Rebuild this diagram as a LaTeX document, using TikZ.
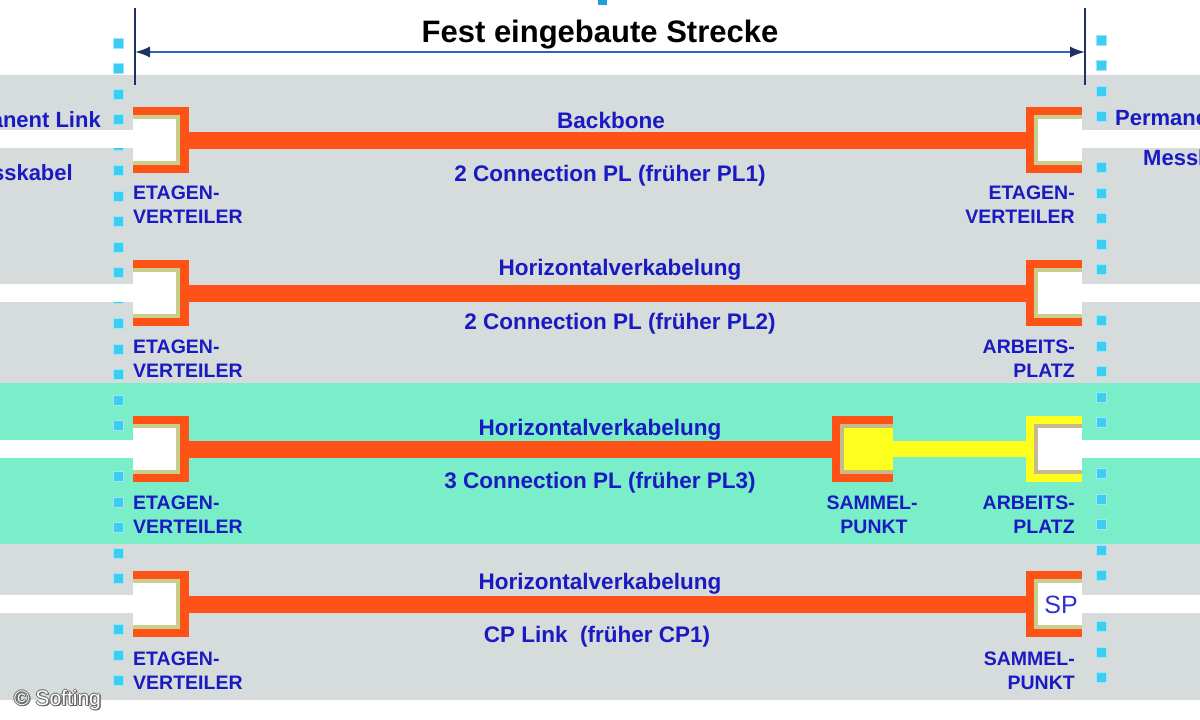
\documentclass[tikz,border=0pt]{standalone}
\usepackage{fontspec}
\setmainfont{Liberation Sans}
\usetikzlibrary{arrows.meta}
\definecolor{bgray}{RGB}{214,219,219}
\definecolor{tealb}{RGB}{122,238,200}
\definecolor{cab}{RGB}{255,82,22}
\definecolor{beige}{RGB}{200,206,140}
\definecolor{tanb}{RGB}{200,185,140}
\definecolor{yel}{RGB}{255,255,30}
\definecolor{txtblue}{RGB}{26,26,195}
\definecolor{dotc}{RGB}{60,205,242}
\definecolor{navyb}{RGB}{30,50,100}
\definecolor{arrblue}{RGB}{50,95,195}
\tikzset{
 openL/.style n args={3}{minimum width=56pt, minimum height=66pt, inner sep=0pt, fill=#1,
  path picture={
   \fill[#2] ([yshift=-8pt]path picture bounding box.north west) rectangle ([xshift=-9pt,yshift=8pt]path picture bounding box.south east);
   \fill[#3] ([yshift=-12pt]path picture bounding box.north west) rectangle ([xshift=-13pt,yshift=12pt]path picture bounding box.south east);}},
 openR/.style n args={3}{minimum width=56pt, minimum height=66pt, inner sep=0pt, fill=#1,
  path picture={
   \fill[#2] ([xshift=8pt,yshift=-8pt]path picture bounding box.north west) rectangle ([yshift=8pt]path picture bounding box.south east);
   \fill[#3] ([xshift=12pt,yshift=-12pt]path picture bounding box.north west) rectangle ([yshift=12pt]path picture bounding box.south east);}},
 cable/.style={draw=cab, line width=17pt},
 ycable/.style={draw=yel, line width=16pt},
 captxt/.style={font=\bfseries\fontsize{22.5}{22.5}\selectfont, text=txtblue, inner sep=0pt, anchor=base},
 lbl/.style={font=\bfseries\fontsize{19.5}{19.5}\selectfont, text=txtblue, inner sep=0pt},
 side/.style={font=\bfseries\fontsize{22}{22}\selectfont, text=txtblue, inner sep=0pt},
 stripe/.style={fill=white},
 dotsq/.style={fill=dotc, draw=dotc!50!white, line width=0.8pt},
 copytxt/.style={font=\fontsize{21}{21}\selectfont, inner sep=0pt, anchor=base west},
}
\begin{document}
\begin{tikzpicture}[x=1pt,y=-1pt]
\useasboundingbox (0,0) rectangle (1200,720);
\clip (0,0) rectangle (1200,720);
% backgrounds
\fill[white] (0,0) rectangle (1200,720);
\fill[bgray] (0,75) rectangle (1200,700);
\fill[tealb] (0,383) rectangle (1200,544);
% dotted columns
\foreach \i in {0,...,25} {
  \filldraw[dotsq] (113.5,38+25.5*\i) rectangle +(10,10);
  \filldraw[dotsq] (1096.5,35+25.5*\i) rectangle +(10,10);
}
% white stripes
\foreach \c in {139,293,449,604} {
  \fill[stripe] (0,\c-9) rectangle (135,\c+9);
  \fill[stripe] (1080,\c-9) rectangle (1200,\c+9);
}
% boxes
\node[openL={cab}{beige}{white}] (L1) at (161,140) {};
\node[openR={cab}{beige}{white}] (R1) at (1054,140) {};
\node[openL={cab}{beige}{white}] (L2) at (161,293) {};
\node[openR={cab}{beige}{white}] (R2) at (1054,293) {};
\node[openL={cab}{beige}{white}] (L3) at (161,449) {};
\node[openR={cab}{tanb}{yel}, minimum width=61pt] (S3) at (862.5,449) {};
\node[openR={yel}{tanb}{white}] (A3) at (1054,449) {};
\node[openL={cab}{beige}{white}] (L4) at (161,604) {};
\node[openR={cab}{beige}{white}] (R4) at (1054,604) {};
% cables
\draw[cable] (L1.east) -- (R1.west);
\draw[cable] (L2.east) -- (R2.west);
\draw[cable] (L3.east) -- (S3.west);
\draw[ycable] (S3.east) -- (A3.west);
\draw[cable] (L4.east) -- (R4.west);
\node[font=\fontsize{25}{25}\selectfont, text=txtblue!90!white, inner sep=0pt, anchor=base] (sp) at (1061,613) {SP};
% cable captions
\node[captxt] (t1) at (611,128) {Backbone};
\node[captxt] (b1) at (610,181) {2 Connection PL (früher PL1)};
\node[captxt] (t2) at (620,275) {Horizontalverkabelung};
\node[captxt] (b2) at (620,329) {2 Connection PL (früher PL2)};
\node[captxt] (t3) at (600,435) {Horizontalverkabelung};
\node[captxt] (b3) at (600,488) {3 Connection PL (früher PL3)};
\node[captxt] (t4) at (600,589) {Horizontalverkabelung};
\node[captxt] (b4) at (597,642) {CP Link\ \ (früher CP1)};
% box labels
\node[lbl, anchor=base west] (e1a) at (133,199) {ETAGEN-};
\node[lbl, anchor=base west] (e1b) at (133,223) {VERTEILER};
\node[lbl, anchor=base east] (f1a) at (1075,199) {ETAGEN-};
\node[lbl, anchor=base east] (f1b) at (1075,223) {VERTEILER};
\node[lbl, anchor=base west] (e2a) at (133,353) {ETAGEN-};
\node[lbl, anchor=base west] (e2b) at (133,377) {VERTEILER};
\node[lbl, anchor=base east] (f2a) at (1075,353) {ARBEITS-};
\node[lbl, anchor=base east] (f2b) at (1075,377) {PLATZ};
\node[lbl, anchor=base west] (e3a) at (133,509) {ETAGEN-};
\node[lbl, anchor=base west] (e3b) at (133,533) {VERTEILER};
\node[lbl, anchor=base] (s3a) at (872,509) {SAMMEL-};
\node[lbl, anchor=base] (s3b) at (874,533) {PUNKT};
\node[lbl, anchor=base east] (f3a) at (1075,509) {ARBEITS-};
\node[lbl, anchor=base east] (f3b) at (1075,533) {PLATZ};
\node[lbl, anchor=base west] (e4a) at (133,665) {ETAGEN-};
\node[lbl, anchor=base west] (e4b) at (133,689) {VERTEILER};
\node[lbl, anchor=base east] (f4a) at (1075,665) {SAMMEL-};
\node[lbl, anchor=base east] (f4b) at (1075,689) {PUNKT};
% side texts
\node[side, anchor=base east] (pl) at (101,127) {Permanent Link};
\node[side, anchor=base east] (mk) at (73,180) {Messkabel};
\node[side, anchor=base west] (pr) at (1115,125) {Permanent Link};
\node[side, anchor=base west] (mr) at (1143,165) {Messkabel};
% dimension
\fill[arrblue!60!cyan] (598,0) rectangle (607,5);
\coordinate (dlt) at (135,8);
\coordinate (dlb) at (135,85);
\coordinate (drt) at (1085,8);
\coordinate (drb) at (1085,85);
\coordinate (dl) at (135,52);
\coordinate (dr) at (1085,52);
\draw[navyb, line width=1.8pt] (dlt) -- (dlb);
\draw[navyb, line width=1.8pt] (drt) -- (drb);
\draw[arrblue, line width=1.8pt, {Latex[length=15pt,width=11pt,color=navyb]}-{Latex[length=15pt,width=11pt,color=navyb]}] (dl) -- (dr);
\node[font=\bfseries\fontsize{31}{31}\selectfont, inner sep=0pt, anchor=base] (title) at (600,42) {Fest eingebaute Strecke};
% copyright
\foreach \dx/\dy [count=\k] in {1/0,-1/0,0/1,0/-1,1.5/1.5} {
  \node[copytxt, text=black!60] (cs\k) at (14+\dx,705+\dy) {© Softing};
}
\node[copytxt, text=white] (copy) at (14,705) {© Softing};
\end{tikzpicture}
\end{document}
